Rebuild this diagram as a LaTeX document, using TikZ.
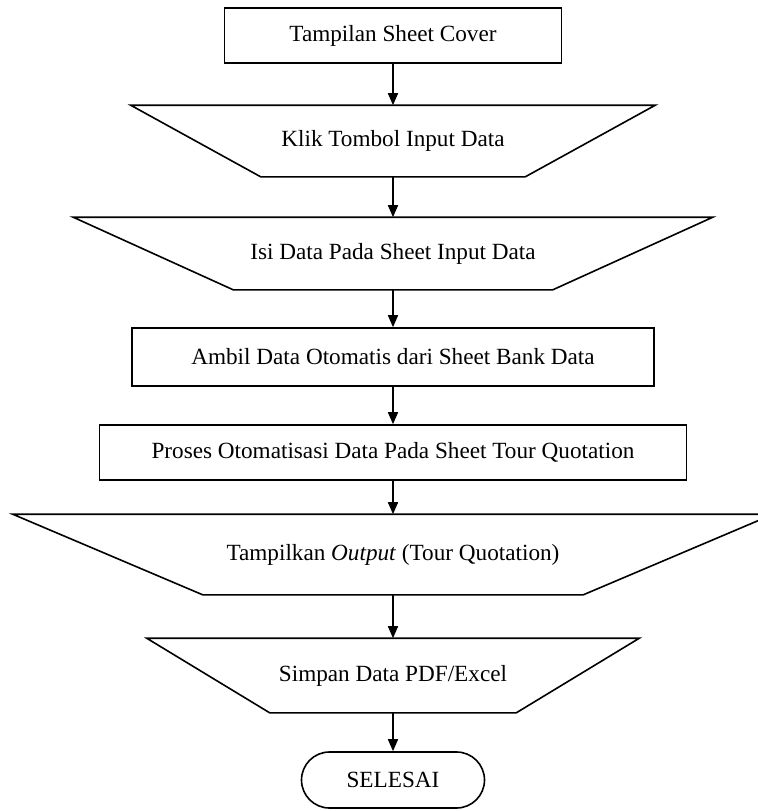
\documentclass[tikz,border=0pt]{standalone}
\usepackage{fontspec}
\setmainfont{Liberation Serif}
\usetikzlibrary{
    arrows.meta,
    calc,
    positioning
}

\tikzset{
    base/.style={font=\fontsize{11.6}{14}\selectfont, inner sep=0pt, line width=0.8pt},
    procbox/.style={base, draw, rectangle},
    manualop/.style={base, rectangle},
    endbox/.style={base, draw, rectangle, rounded corners=14pt},
    outline/.style={line width=0.8pt, line join=miter},
    arr/.style={line width=0.8pt, -{Triangle[length=6pt, width=5pt]}}
}

\begin{document}
\begin{tikzpicture}[x=0.5pt, y=-0.5pt]
    \useasboundingbox (0, 0) rectangle (758, 811);
    \node[procbox, minimum width=168.5pt, minimum height=27.5pt] (cover) at (393, 35.5) {Tampilan Sheet Cover};
    \node[manualop, minimum width=131.5pt, minimum height=35pt] (klik) at (393, 141) {Klik Tombol Input Data};
    \node[manualop, minimum width=159pt, minimum height=35.5pt] (isi) at (393, 253.5) {Isi Data Pada Sheet Input Data};
    \node[procbox, minimum width=261pt, minimum height=29pt] (ambil) at (393, 357) {Ambil Data Otomatis dari Sheet Bank Data};
    \node[procbox, minimum width=293.5pt, minimum height=27.5pt] (proses) at (393, 452.5) {Proses Otomatisasi Data Pada Sheet Tour Quotation};
    \node[manualop, minimum width=189.5pt, minimum height=39.5pt] (output) at (393, 554.5) {Tampilkan \textit{Output} (Tour Quotation)};
    \node[manualop, minimum width=122.5pt, minimum height=36.5pt] (simpan) at (393, 675.5) {Simpan Data PDF/Excel};
    \node[endbox, minimum width=91.5pt, minimum height=28pt] (selesai) at (393, 780) {SELESAI};
    % manual operation outlines
    \draw[outline]
    (klik.south west) -- (klik.south east) -- ($(klik.north east) + (130, 0)$) -- ($(klik.north west) + (-130, 0)$) -- cycle
    (isi.south west) -- (isi.south east) -- ($(isi.north east) + (160, 0)$) -- ($(isi.north west) + (-160, 0)$) -- cycle
    (output.south west) -- (output.south east) -- ($(output.north east) + (190, 0)$) -- ($(output.north west) + (-190, 0)$) -- cycle
    (simpan.south west) -- (simpan.south east) -- ($(simpan.north east) + (123, 0)$) -- ($(simpan.north west) + (-123, 0)$) -- cycle;
    % arrows
    \draw[arr] (cover.south) -- (klik.north);
    \draw[arr] (klik.south) -- (isi.north);
    \draw[arr] (isi.south) -- (ambil.north);
    \draw[arr] (ambil.south) -- (proses.north);
    \draw[arr] (proses.south) -- (output.north);
    \draw[arr] (output.south) -- (simpan.north);
    \draw[arr] (simpan.south) -- (selesai.north);
\end{tikzpicture}
\end{document}
